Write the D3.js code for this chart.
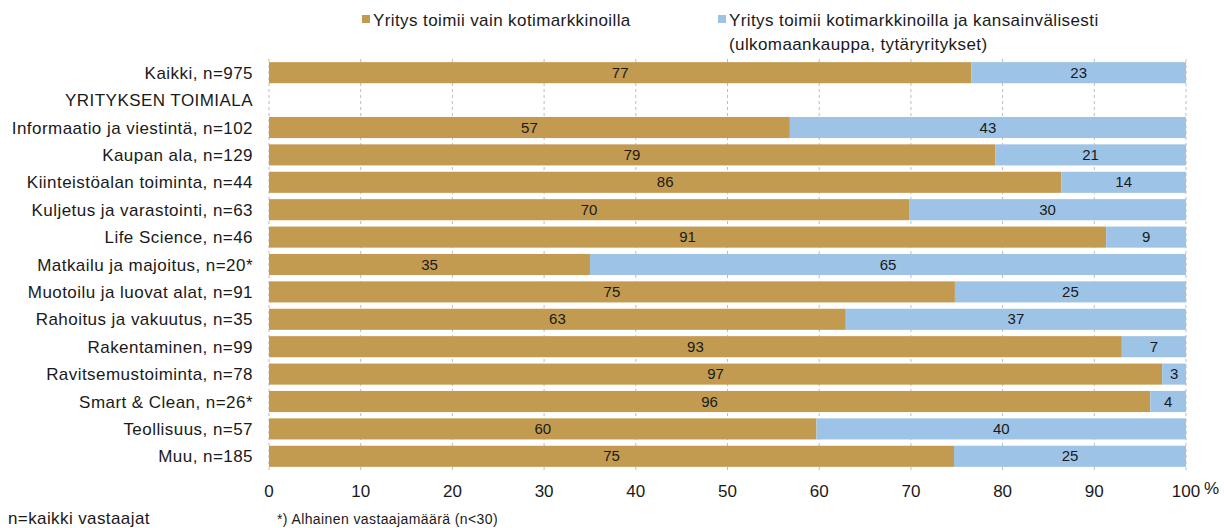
<!DOCTYPE html>
<html>
<head>
<meta charset="utf-8">
<script src="https://cdn.jsdelivr.net/npm/d3@7"></script>
<style>
  body { margin: 0; background: #fff; }
  svg text { font-family: "Liberation Sans", Arial, sans-serif; fill: #1a1a1a; }
</style>
</head>
<body>
<svg id="chart"></svg>
<script>
const categories = [
    "Kaikki, n=975",
    "YRITYKSEN TOIMIALA",
    "Informaatio ja viestintä, n=102",
    "Kaupan ala, n=129",
    "Kiinteistöalan toiminta, n=44",
    "Kuljetus ja varastointi, n=63",
    "Life Science, n=46",
    "Matkailu ja majoitus, n=20*",
    "Muotoilu ja luovat alat, n=91",
    "Rahoitus ja vakuutus, n=35",
    "Rakentaminen, n=99",
    "Ravitsemustoiminta, n=78",
    "Smart & Clean, n=26*",
    "Teollisuus, n=57",
    "Muu, n=185"
];
// share of companies operating only in domestic markets (null = header row)
const domestic = [76.6, null, 56.8, 79.2, 86.4, 69.8, 91.3, 35.0, 74.8, 62.9, 93.0, 97.4, 96.1, 59.7, 74.7];
const domesticLabels = [77, null, 57, 79, 86, 70, 91, 35, 75, 63, 93, 97, 96, 60, 75];
const international = domestic.map(d => d == null ? null : 100 - d);
const internationalLabels = [23, null, 43, 21, 14, 30, 9, 65, 25, 37, 7, 3, 4, 40, 25];
const seriesNames = [
    ["Yritys toimii vain kotimarkkinoilla"],
    ["Yritys toimii kotimarkkinoilla ja kansainvälisesti", "(ulkomaankauppa, tytäryritykset)"]
];
const xTicks = [0, 10, 20, 30, 40, 50, 60, 70, 80, 90, 100];
const colors = ["#c39b50", "#9dc3e6"];

const width = 1224, height = 528;
const svg = d3.select("#chart").attr("width", width).attr("height", height);

const x = d3.scaleLinear().domain([0, 100]).range([269, 1186]);
const y = d3.scaleBand().domain(categories).range([59, 470]).paddingInner(0.23).paddingOuter(0.115);

// grid lines
svg.append("g")
    .selectAll("line")
    .data(xTicks)
    .enter().append("line")
    .attr("x1", d => x(d)).attr("x2", d => x(d))
    .attr("y1", 59).attr("y2", 472)
    .attr("stroke", "#bdbdbd")
    .attr("stroke-width", 1)
    .attr("stroke-dasharray", "3,3");

const rows = categories.map((c, i) => ({
    cat: c, dom: domestic[i], intl: international[i],
    domLabel: domesticLabels[i], intlLabel: internationalLabels[i]
})).filter(d => d.dom != null);

const bars = svg.append("g");
bars.selectAll(".dom")
    .data(rows)
    .enter().append("rect")
    .attr("class", "dom")
    .attr("x", x(0))
    .attr("y", d => y(d.cat))
    .attr("width", d => x(d.dom) - x(0))
    .attr("height", y.bandwidth())
    .attr("fill", colors[0]);

bars.selectAll(".intl")
    .data(rows)
    .enter().append("rect")
    .attr("class", "intl")
    .attr("x", d => x(d.dom))
    .attr("y", d => y(d.cat))
    .attr("width", d => x(100) - x(d.dom))
    .attr("height", y.bandwidth())
    .attr("fill", colors[1]);

// value labels
bars.selectAll(".domLabel")
    .data(rows)
    .enter().append("text")
    .attr("x", d => (x(0) + x(d.dom)) / 2)
    .attr("y", d => y(d.cat) + y.bandwidth() / 2 + 5)
    .attr("text-anchor", "middle")
    .attr("font-size", 15)
    .text(d => d.domLabel);

bars.selectAll(".intlLabel")
    .data(rows)
    .enter().append("text")
    .attr("x", d => (x(d.dom) + x(100)) / 2)
    .attr("y", d => y(d.cat) + y.bandwidth() / 2 + 5)
    .attr("text-anchor", "middle")
    .attr("font-size", 15)
    .text(d => d.intlLabel);

// category labels
svg.append("g")
    .selectAll("text")
    .data(categories)
    .enter().append("text")
    .attr("x", 253)
    .attr("y", d => y(d) + y.bandwidth() / 2 + 6)
    .attr("text-anchor", "end")
    .attr("font-size", 17)
    .attr("letter-spacing", 0.45)
    .text(d => d);

// x axis labels
svg.append("g")
    .selectAll("text")
    .data(xTicks)
    .enter().append("text")
    .attr("x", d => x(d))
    .attr("y", 497)
    .attr("text-anchor", "middle")
    .attr("font-size", 17)
    .text(d => d);

svg.append("text")
    .attr("x", 1204).attr("y", 494)
    .attr("font-size", 17)
    .text("%");

// legend
const legendX = [362, 718];
seriesNames.forEach((lines, i) => {
    svg.append("rect")
        .attr("x", legendX[i]).attr("y", 15)
        .attr("width", 8).attr("height", 8)
        .attr("fill", colors[i]);
    lines.forEach((ln, j) => {
        svg.append("text")
            .attr("x", legendX[i] + 11)
            .attr("y", 26 + j * 24)
            .attr("font-size", 17)
            .attr("letter-spacing", 0.4)
            .text(ln);
    });
});

// footnotes
svg.append("text")
    .attr("x", 8).attr("y", 524)
    .attr("font-size", 17)
    .attr("letter-spacing", 0.4)
    .text("n=kaikki vastaajat");
svg.append("text")
    .attr("x", 277).attr("y", 524)
    .attr("font-size", 14)
    .attr("letter-spacing", 0.4)
    .text("*) Alhainen vastaajamäärä (n<30)");
</script>
</body>
</html>
